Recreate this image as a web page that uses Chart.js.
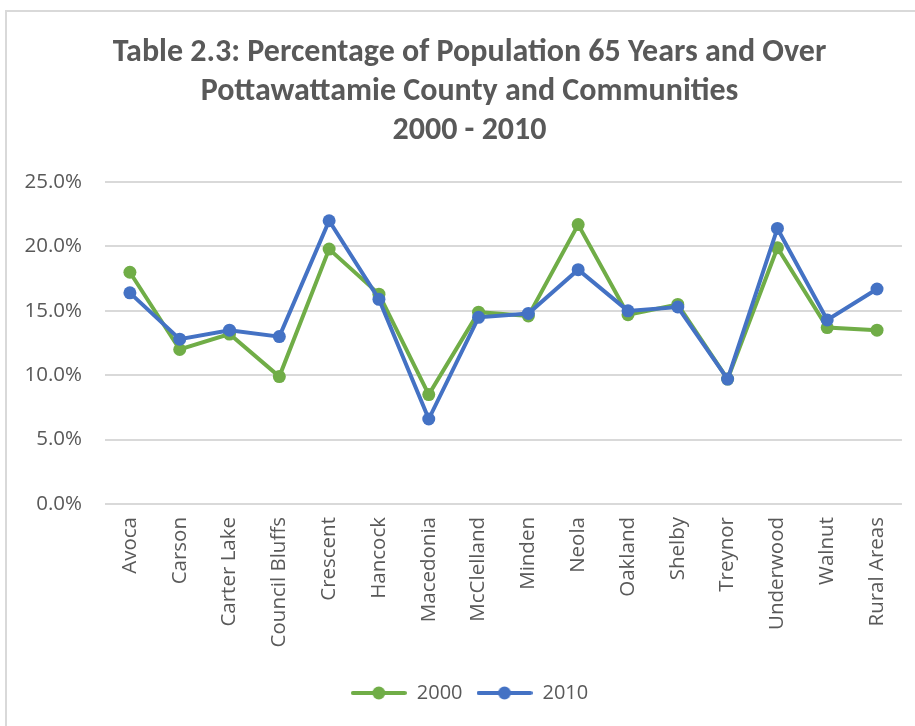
<!DOCTYPE html>
<html>
<head>
<meta charset="utf-8">
<script src="https://cdn.jsdelivr.net/npm/chart.js@4/dist/chart.umd.min.js"></script>
<style>
  html, body { margin: 0; padding: 0; background: #ffffff; }
  #wrap { position: relative; width: 915px; height: 726px; overflow: hidden; }
  #frame { position: absolute; left: 5px; top: 10px; right: -4px; bottom: -4px;
           border-left: 2px solid #d9d9d9; border-top: 2px solid #d9d9d9; }
  #chart { position: absolute; left: 0; top: 0; }
</style>
</head>
<body>
<div id="wrap">
  <div id="frame"></div>
  <canvas id="chart" width="915" height="726"></canvas>
</div>
<script>
// Communities along the category axis
const communities = ['Avoca', 'Carson', 'Carter Lake', 'Council Bluffs', 'Crescent', 'Hancock',
  'Macedonia', 'McClelland', 'Minden', 'Neola', 'Oakland', 'Shelby', 'Treynor', 'Underwood',
  'Walnut', 'Rural Areas'];

// Share of residents aged 65 and over (percent)
const pct2000 = [18.0, 12.0, 13.2, 9.9, 19.8, 16.3, 8.5, 14.9, 14.6, 21.7, 14.7, 15.5, 9.7, 19.9, 13.7, 13.5];
const pct2010 = [16.4, 12.8, 13.5, 13.0, 22.0, 15.9, 6.6, 14.5, 14.8, 18.2, 15.0, 15.3, 9.7, 21.4, 14.3, 16.7];

const seriesNames = ['2000', '2010'];
const yTicks = [0, 5, 10, 15, 20, 25];

const GREEN = '#70ad47';
const BLUE = '#4472c4';
const TEXT = '#595959';
const TITLE_FONT = 'Carlito';
const LABEL_FONT = 'Open Sans';

// Legend swatch: a short line with a marker in its middle
function swatch(color) {
  const c = document.createElement('canvas');
  c.width = 56; c.height = 16;
  const g = c.getContext('2d');
  g.strokeStyle = color; g.lineWidth = 4; g.lineCap = 'round';
  g.beginPath(); g.moveTo(2, 8); g.lineTo(54, 8); g.stroke();
  g.fillStyle = color;
  g.beginPath(); g.arc(28, 8, 6.5, 0, Math.PI * 2); g.fill();
  return c;
}
const swatches = [swatch(GREEN), swatch(BLUE)];

function build() {
  new Chart(document.getElementById('chart'), {
    type: 'line',
    data: {
      labels: communities,
      datasets: [
        { label: seriesNames[0], data: pct2000, borderColor: GREEN, backgroundColor: GREEN,
          borderWidth: 4, pointRadius: 6.5, pointHoverRadius: 6.5, pointBorderWidth: 0,
          tension: 0, order: 1 },
        { label: seriesNames[1], data: pct2010, borderColor: BLUE, backgroundColor: BLUE,
          borderWidth: 4, pointRadius: 6.5, pointHoverRadius: 6.5, pointBorderWidth: 0,
          tension: 0, order: 0 }
      ]
    },
    options: {
      responsive: false,
      animation: false,
      layout: { padding: { left: 24, right: 0, top: 0, bottom: 13 } },
      plugins: {
        tooltip: { enabled: false },
        title: {
          display: true,
          text: ['Table 2.3: Percentage of Population 65 Years and Over',
                 'Pottawattamie County and Communities',
                 '2000 - 2010'],
          color: TEXT,
          font: { family: TITLE_FONT, size: 32, weight: 'bold', lineHeight: 1.22 },
          padding: { top: 33, bottom: 32 }
        },
        legend: {
          position: 'bottom',
          labels: {
            color: TEXT,
            font: { family: LABEL_FONT, size: 20 },
            usePointStyle: true,
            pointStyleWidth: 56,
            padding: 14,
            generateLabels(chart) {
              const items = Chart.defaults.plugins.legend.labels.generateLabels(chart);
              items.sort((a, b) => a.datasetIndex - b.datasetIndex);
              items.forEach(it => { it.pointStyle = swatches[it.datasetIndex]; });
              return items;
            }
          }
        }
      },
      scales: {
        x: {
          offset: true,
          grid: { display: false, drawTicks: false },
          border: { display: false },
          ticks: {
            color: TEXT, font: { family: LABEL_FONT, size: 20.5 },
            minRotation: 90, maxRotation: 90, autoSkip: false, padding: 13
          },
          afterFit(scale) { scale.height = 165; }
        },
        y: {
          min: 0, max: 25,
          afterBuildTicks(scale) { scale.ticks = yTicks.map(v => ({ value: v })); },
          grid: { color: '#d9d9d9', lineWidth: 2, drawTicks: false },
          border: { display: false },
          ticks: {
            color: TEXT, font: { family: LABEL_FONT, size: 20.5 }, padding: 23,
            callback: v => v.toFixed(1) + '%'
          },
          afterFit(scale) { scale.width = 81; }
        },
        yRight: {
          position: 'right',
          display: true,
          grid: { display: false },
          border: { display: false },
          ticks: { display: false },
          afterFit(scale) { scale.width = 12; }
        }
      }
    }
  });
}

// Make sure the installed faces are ready before the canvas measures text
Promise.all([
  document.fonts.load('20px "' + LABEL_FONT + '"'),
  document.fonts.load('bold 32px "' + TITLE_FONT + '"')
]).then(build, build);
</script>
</body>
</html>
